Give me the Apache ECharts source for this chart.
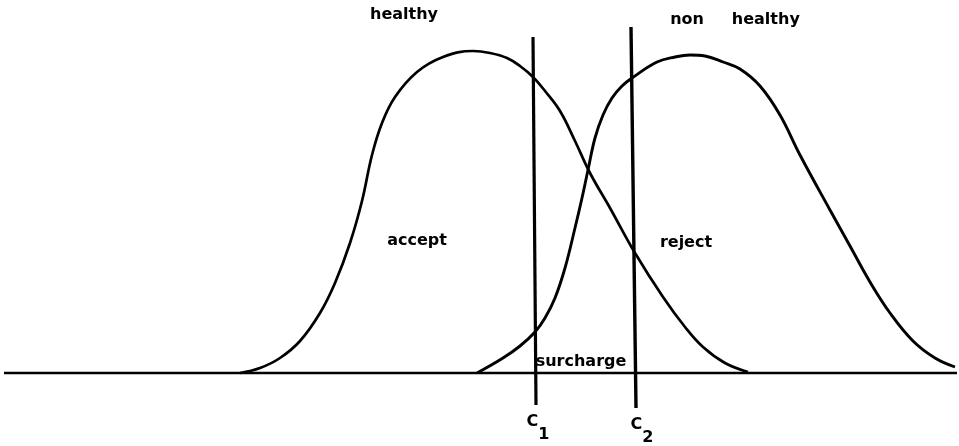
<!DOCTYPE html>
<html>
<head>
<meta charset="utf-8">
<script src="https://cdn.jsdelivr.net/npm/echarts@6/dist/echarts.min.js"></script>
<style>html,body{margin:0;padding:0;background:#fff}#c{width:959px;height:446px}</style>
</head>
<body>
<div id="c"></div>
<script>
// Scale: horizontal score (0..959), vertical height above the baseline.
var healthyX = [240, 260, 280, 300, 320, 335, 350, 362, 372, 382, 395, 417, 443, 473, 490, 507, 520, 533, 545, 560, 575, 590, 610, 635, 663, 685, 703, 725, 748];
var healthyY = [0, 5, 15, 32, 60, 90, 130, 172, 218, 250, 276, 301, 316, 322, 320, 315, 307, 296, 282, 262, 232, 200, 165, 120, 76, 46, 26, 10, 1];

var nonHealthyX = [477, 503, 520, 535, 545, 555, 565, 575, 582, 588, 595, 603, 612, 622, 632, 657, 675, 690, 705, 723, 740, 760, 780, 800, 830, 850, 870, 890, 913, 935, 955];
var nonHealthyY = [0, 15, 27, 41, 55, 75, 105, 145, 175, 203, 235, 258, 275, 287, 295, 311, 316, 318, 317, 311, 304, 287, 258, 218, 163, 127, 91, 60, 32, 15, 6];

var baselineX = [4, 957];
var baselineY = [0, 0];

var c1X = [536, 533];
var c1Y = [-32, 336];
var c2X = [636, 631];
var c2Y = [-35, 346];

var labelTexts = ['healthy', 'non     healthy', 'accept', 'reject', 'surcharge', '{c|C}{s|1}', '{c|C}{s|2}'];
var labelAnchorX = [404, 735, 417, 686, 581, 538, 642];
var labelAnchorY = [358, 353, 132, 130, 11, -55, -58];

function pairs(xs, ys) { return xs.map(function (x, i) { return [x, ys[i]]; }); }

var lineBase = { type: 'line', showSymbol: false, symbol: 'none', silent: true, animation: false };
function lineSeries(xs, ys, w, smooth) {
  return Object.assign({}, lineBase, {
    data: pairs(xs, ys),
    smooth: smooth,
    lineStyle: { color: '#000', width: w }
  });
}

var chart = echarts.init(document.getElementById('c'), null, { renderer: 'canvas' });
chart.setOption({
  backgroundColor: '#fff',
  animation: false,
  grid: { left: 0, right: 0, top: 0, bottom: 0 },
  xAxis: { type: 'value', min: 0, max: 959, show: false },
  yAxis: { type: 'value', min: -73, max: 373, show: false },
  series: [
    lineSeries(baselineX, baselineY, 2.6, false),
    lineSeries(healthyX, healthyY, 2.7, 0.4),
    lineSeries(nonHealthyX, nonHealthyY, 2.9, 0.4),
    lineSeries(c1X, c1Y, 3.2, false),
    lineSeries(c2X, c2Y, 3.4, false)
  ]
});

var fam = 'DejaVu Sans';
chart.setOption({
  graphic: labelTexts.map(function (t, i) {
    var p = chart.convertToPixel({ gridIndex: 0 }, [labelAnchorX[i], labelAnchorY[i]]);
    return {
      type: 'text',
      x: p[0],
      y: p[1],
      silent: true,
      style: {
        text: t,
        fill: '#000',
        align: 'center',
        verticalAlign: 'middle',
        fontFamily: fam,
        fontWeight: 'bold',
        fontSize: 16,
        rich: {
          c: { fill: '#000', fontFamily: fam, fontWeight: 'bold', fontSize: 16, verticalAlign: 'top' },
          s: { fill: '#000', fontFamily: fam, fontWeight: 'bold', fontSize: 16, padding: [13, 0, 0, 0], verticalAlign: 'bottom' }
        }
      }
    };
  })
});
</script>
</body>
</html>
